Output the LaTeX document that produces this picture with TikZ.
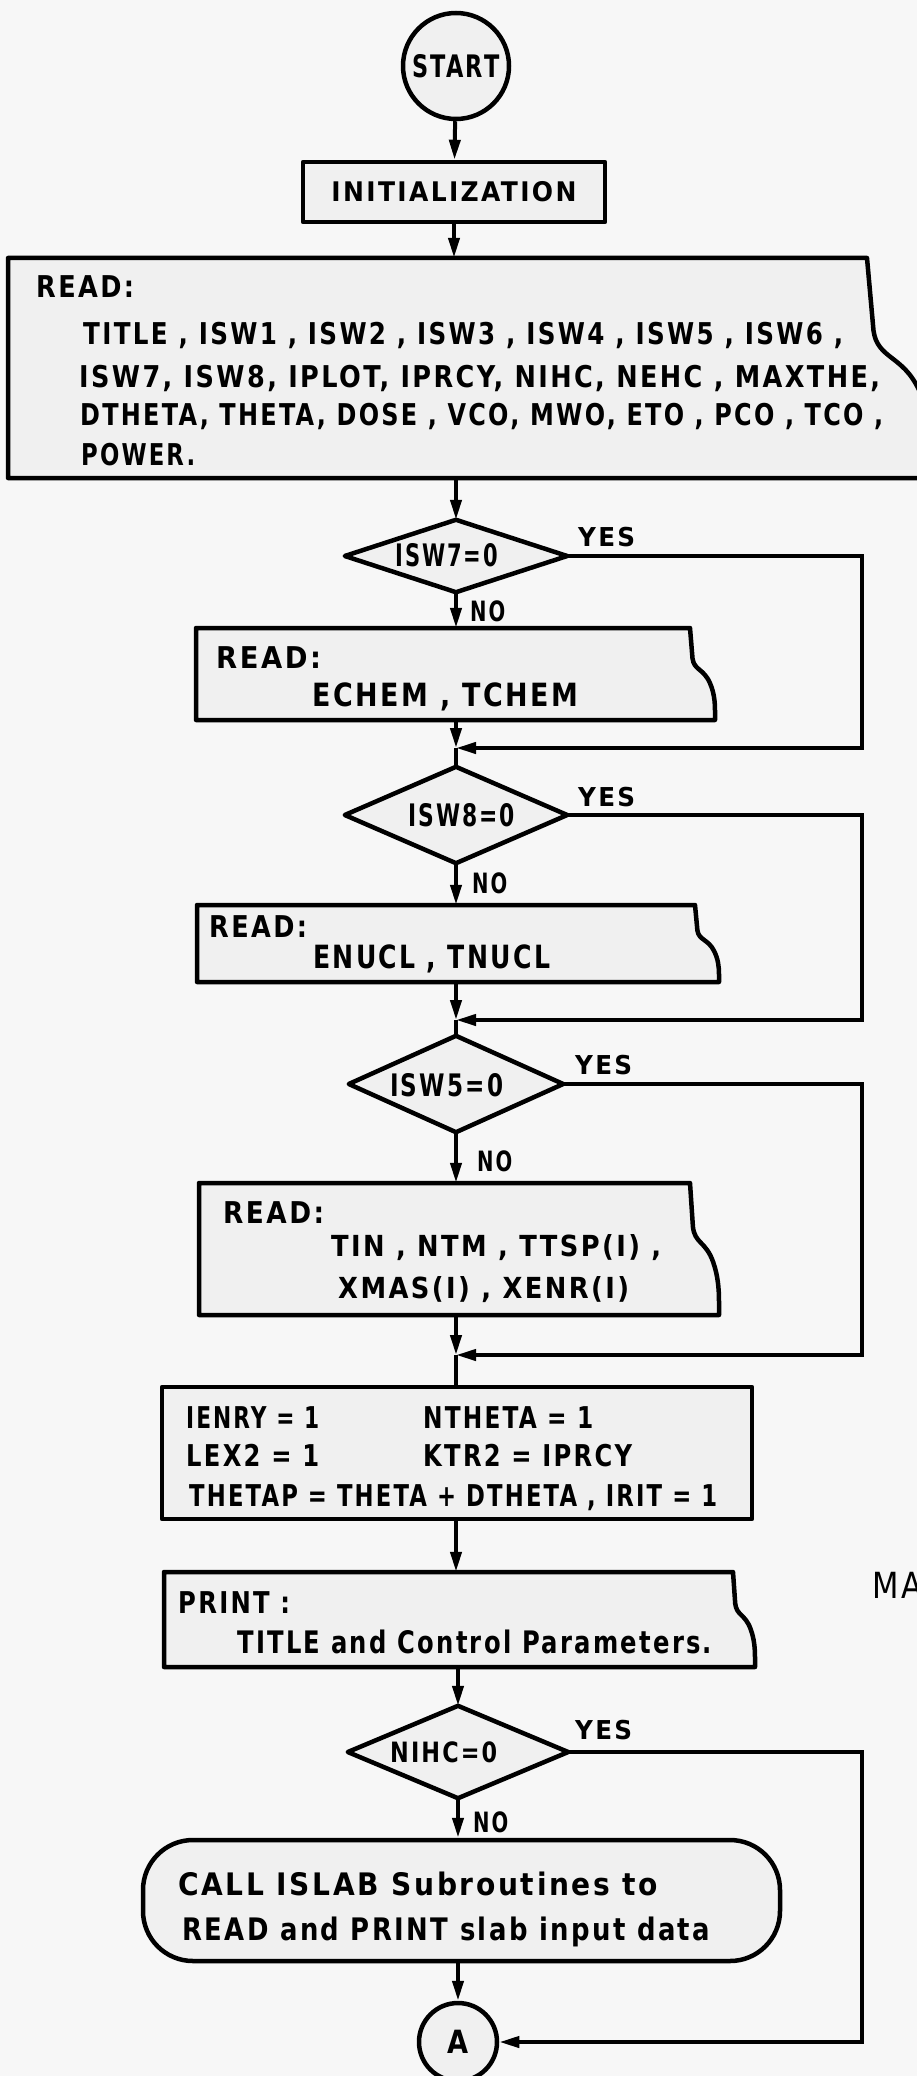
\documentclass[tikz,border=0pt]{standalone}
\usepackage{fontspec}
\usepackage{graphicx}
\setmainfont{DejaVu Sans}[FakeStretch=0.85,LetterSpace=8]
\usetikzlibrary{arrows.meta,calc}

% font size helper and width-fitted text line
\newcommand\fs[1]{\fontsize{#1}{#1}\selectfont}
\newcommand\fitw[2]{\resizebox{#1pt}{\height}{#2}}

\tikzset{
  shapeline/.style={line width=4.5pt, draw=black, fill=black!6, line join=round},
  flowline/.style={line width=4pt, draw=black},
  arr/.style={flowline, -{Triangle[length=20pt,width=11pt]}},
  txt/.style={inner sep=0pt, anchor=base west, font=\bfseries},
  hold/.style={inner sep=0pt, draw=none, shape=rectangle},
}

% card-shaped input/output box with a wavy right edge
% #1 name, #2 x left, #3 y top, #4 x right, #5 y bottom, #6 depth of the wave
\newcommand\cardshape[6]{%
  \pgfmathsetmacro\cdw{#4-#2}%
  \pgfmathsetmacro\cdh{#5-#3}%
  \pgfmathsetmacro\cdx{(#2+#4)/2}%
  \pgfmathsetmacro\cdy{(#3+#5)/2}%
  \node[hold, minimum width=\cdw pt, minimum height=\cdh pt] (#1) at (\cdx,\cdy) {};
  \draw[shapeline] (#2,#3) -- ({#4-#6},#3)
    -- ({#4-0.9*#6},{#3+0.33*\cdh})
    .. controls ({#4-0.84*#6},{#3+0.46*\cdh}) and ({#4-0.45*#6},{#3+0.44*\cdh}) .. ({#4-0.2*#6},{#3+0.6*\cdh})
    .. controls ({#4-0.04*#6},{#3+0.7*\cdh}) and (#4,{#3+0.8*\cdh}) .. (#4,{#3+0.9*\cdh})
    -- (#4,#5) -- (#2,#5) -- cycle;
}

% decision diamond drawn round an invisible holder node
% #1 name, #2 x, #3 y, #4 width, #5 height
\newcommand\decision[5]{%
  \node[hold, minimum width=#4pt, minimum height=#5pt] (#1) at (#2,#3) {};
  \draw[shapeline] (#1.north) -- (#1.east) -- (#1.south) -- (#1.west) -- cycle;
}

\begin{document}
\begin{tikzpicture}[x=1pt,y=-1pt]
\fill[black!3] (0,0) rectangle (917,2076);
\useasboundingbox (0,0) rectangle (917,2076);

% ---- terminals and process boxes ----
\node[shapeline, circle, minimum size=106pt, inner sep=0pt, font=\bfseries] (start) at (456,66)
  {\fs{31}\fitw{87}{START}};
\node[shapeline, rectangle, minimum width=302pt, minimum height=60pt, inner sep=0pt, font=\bfseries] (init) at (454,192)
  {\fs{27}\fitw{245}{INITIALIZATION}};

\cardshape{rd0}{8}{258}{932}{478}{65}
\node[txt] (rd0a) at (36,298) {\fs{30}\fitw{98}{READ:}};
\node[txt] (rd0b) at (83,344) {\fs{30}\fitw{760}{TITLE , ISW1 , ISW2 , ISW3 , ISW4 , ISW5 , ISW6 ,}};
\node[txt] (rd0c) at (79,387) {\fs{30}\fitw{801}{ISW7, ISW8, IPLOT, IPRCY, NIHC, NEHC , MAXTHE,}};
\node[txt] (rd0d) at (80,425) {\fs{30}\fitw{803}{DTHETA, THETA, DOSE , VCO, MWO, ETO , PCO , TCO ,}};
\node[txt] (rd0e) at (81,465) {\fs{30}\fitw{114}{POWER.}};

\decision{d1}{456}{556}{222}{72}
\node[txt] (d1t) at (395,566) {\fs{31}\fitw{103}{ISW7=0}};

\cardshape{rd1}{196}{628}{715}{720}{25}
\node[txt] (rd1a) at (216,668) {\fs{30}\fitw{105}{READ:}};
\node[txt] (rd1b) at (312,706) {\fs{32}\fitw{266}{ECHEM , TCHEM}};

\decision{d2}{456}{815}{222}{96}
\node[txt] (d2t) at (408,826) {\fs{31}\fitw{107}{ISW8=0}};

\cardshape{rd2}{197}{905}{719}{982}{24}
\node[txt] (rd2a) at (209,937) {\fs{30}\fitw{98}{READ:}};
\node[txt] (rd2b) at (313,968) {\fs{32}\fitw{237}{ENUCL , TNUCL}};

\decision{d3}{456}{1084}{214}{96}
\node[txt] (d3t) at (390,1096) {\fs{31}\fitw{113}{ISW5=0}};

\cardshape{rd3}{199}{1183}{719}{1315}{29}
\node[txt] (rd3a) at (223,1223) {\fs{30}\fitw{101}{READ:}};
\node[txt] (rd3b) at (331,1256) {\fs{29}\fitw{330}{TIN , NTM , TTSP(I) ,}};
\node[txt] (rd3c) at (338,1298) {\fs{29}\fitw{291}{XMAS(I) , XENR(I)}};

\node[shapeline, rectangle, minimum width=590pt, minimum height=132pt, inner sep=0pt] (asg) at (457,1453) {};
\node[txt] (asga) at (186,1428) {\fs{30}\fitw{133}{IENRY = 1}};
\node[txt] (asgb) at (423,1428) {\fs{30}\fitw{170}{NTHETA = 1}};
\node[txt] (asgc) at (186,1466) {\fs{30}\fitw{133}{LEX2 = 1}};
\node[txt] (asgd) at (423,1466) {\fs{30}\fitw{209}{KTR2 = IPRCY}};
\node[txt] (asge) at (189,1506) {\fs{30}\fitw{528}{THETAP = THETA + DTHETA , IRIT = 1}};

\cardshape{rd4}{164}{1572}{755}{1667}{22}
\node[txt] (rd4a) at (178,1613) {\fs{30}\fitw{112}{PRINT :}};
\node[txt] (rd4b) at (237,1653) {\fs{31}\fitw{475}{TITLE and Control Parameters.}};

\decision{d4}{458}{1752}{220}{92}
\node[txt] (d4t) at (390,1762) {\fs{28}\fitw{107}{NIHC=0}};

\node[shapeline, rectangle, rounded corners=50pt, minimum width=637pt, minimum height=121pt, inner sep=0pt] (call) at (461.5,1900.5) {};
\node[txt] (calla) at (178,1895) {\fs{31}\fitw{480}{CALL ISLAB Subroutines to}};
\node[txt] (callb) at (182,1940) {\fs{31}\fitw{528}{READ and PRINT slab input data}};

\node[shapeline, circle, minimum size=78pt, inner sep=0pt, font=\bfseries] (A) at (458,2042) {\fs{32}A};

% ---- branch labels ----
\node[txt] (y1) at (578,546) {\fs{26}\fitw{57}{YES}};
\node[txt] (y2) at (578,806) {\fs{26}\fitw{57}{YES}};
\node[txt] (y3) at (575,1074) {\fs{26}\fitw{57}{YES}};
\node[txt] (y4) at (575,1739) {\fs{26}\fitw{57}{YES}};
\node[txt] (n1) at (470,621) {\fs{28}\fitw{35}{NO}};
\node[txt] (n2) at (472,893) {\fs{28}\fitw{35}{NO}};
\node[txt] (n3) at (477,1171) {\fs{28}\fitw{35}{NO}};
\node[txt] (n4) at (473,1832) {\fs{28}\fitw{35}{NO}};

\node[inner sep=0pt, anchor=base west, font=\mdseries] (ma) at (872,1598) {\fs{36}MA};

% ---- junctions and the right-hand return column ----
\coordinate (j1) at (456,748);
\coordinate (j2) at (456,1020);
\coordinate (j3) at (456,1355);
\coordinate (rx) at (862,0);

% ---- connectors ----
\draw[arr] (start) -- (init);
\draw[arr] (init.south) -- (init.south |- rd0.north);
\draw[arr] (d1.north |- rd0.south) -- (d1.north);

\draw[arr] (d1.south) -- (d1.south |- rd1.north);
\draw[arr] (d1.south |- rd1.south) -- (j1);
\draw[arr] (d1.east) -- (d1.east -| rx) |- (j1);
\draw[flowline] (j1) -- (d2.north);

\draw[arr] (d2.south) -- (d2.south |- rd2.north);
\draw[arr] (d2.south |- rd2.south) -- (j2);
\draw[arr] (d2.east) -- (d2.east -| rx) |- (j2);
\draw[flowline] (j2) -- (d3.north);

\draw[arr] (d3.south) -- (d3.south |- rd3.north);
\draw[arr] (d3.south |- rd3.south) -- (j3);
\draw[arr] (d3.east) -- (d3.east -| rx) |- (j3);
\draw[flowline] (j3) -- (j3 |- asg.north);

\draw[arr] (asg.south -| j3) -- (rd4.north -| j3);
\draw[arr] (d4.north |- rd4.south) -- (d4.north);
\draw[arr] (d4.south) -- (d4.south |- call.north);
\draw[arr] (d4.south |- call.south) -- (A);
\draw[arr] (d4.east) -- (d4.east -| rx) |- (A);
\end{tikzpicture}
\end{document}
